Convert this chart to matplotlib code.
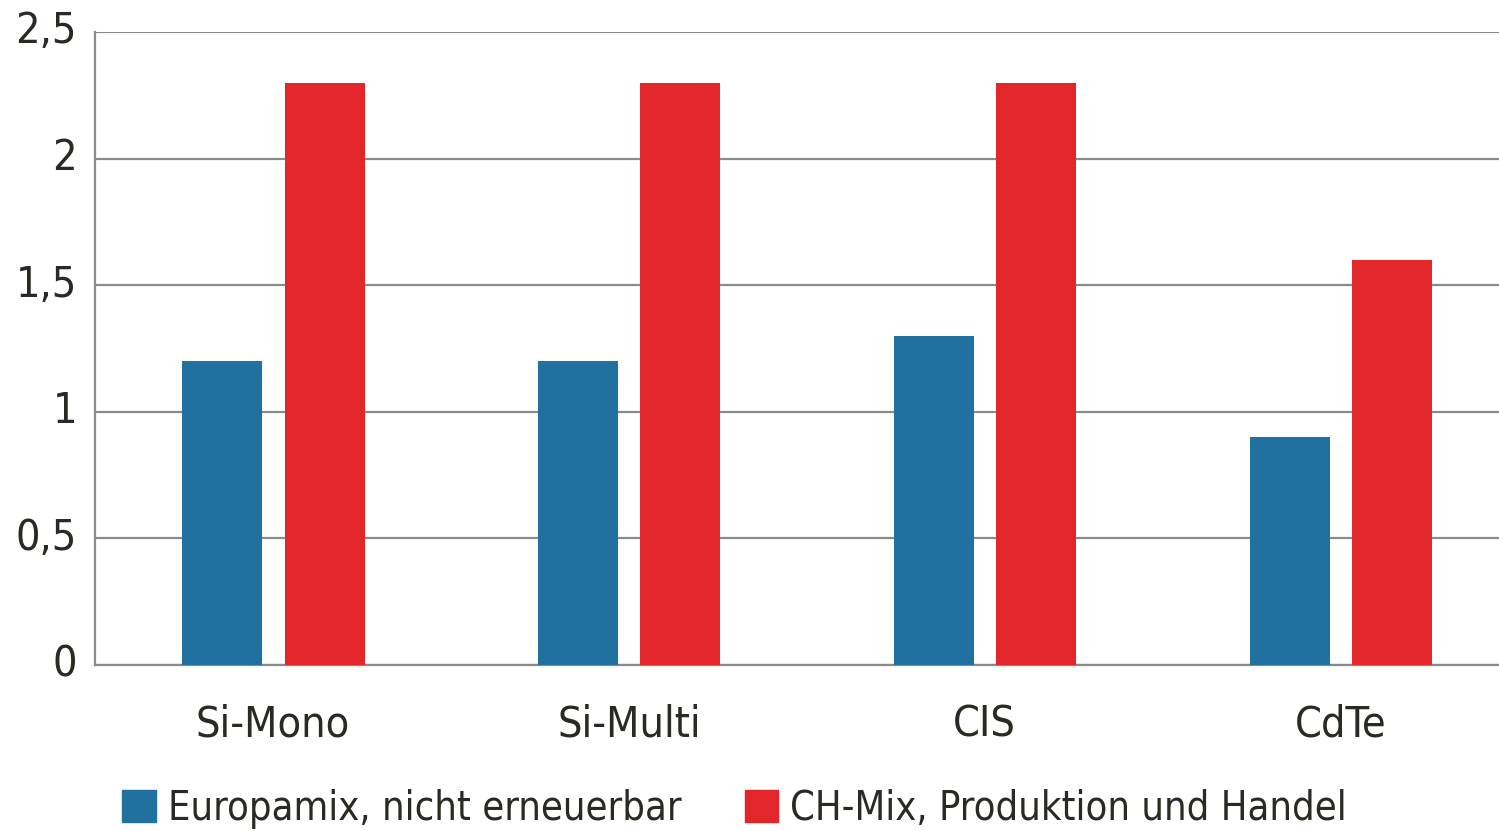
import matplotlib
matplotlib.use("Agg")
import matplotlib.pyplot as plt
import matplotlib.transforms as mtransforms
from matplotlib.patches import Patch
from matplotlib import font_manager
import numpy as np

categories = ["Si-Mono", "Si-Multi", "CIS", "CdTe"]
europamix = [1.2, 1.2, 1.3, 0.9]
ch_mix = [2.3, 2.3, 2.3, 1.6]
series_names = ["Europamix, nicht erneuerbar", "CH-Mix, Produktion und Handel"]
yticks = [0, 0.5, 1, 1.5, 2, 2.5]
ytick_labels = ["0", "0,5", "1", "1,5", "2", "2,5"]

names = {f.name for f in font_manager.fontManager.ttflist}
fam = "Liberation Sans Narrow" if "Liberation Sans Narrow" in names else "DejaVu Sans"
plt.rcParams["font.family"] = [fam, "DejaVu Sans"]
plt.rcParams["font.stretch"] = "condensed"

blue = "#20719f"
red = "#e3262a"
txt = "#2a2a24"
grid = "#8a8a8a"

fig = plt.figure(figsize=(14.99, 8.31), dpi=100)
ax = fig.add_axes([95 / 1499, 166 / 831, 1 - 95 / 1499, 633 / 831])

x = np.arange(len(categories))
w = 0.225
ax.bar(x - 0.142, europamix, w, color=blue, zorder=3)
ax.bar(x + 0.145, ch_mix, w, color=red, zorder=3)

ax.set_xlim(-0.5, 3.445)
ax.set_ylim(0, 2.5)
ax.set_yticks(yticks)
ax.set_yticklabels(ytick_labels)
ax.set_xticks(x)
ax.set_xticklabels(categories)
ax.tick_params(axis="both", length=0, labelsize=31, colors=txt)
ax.tick_params(axis="y", pad=13)
ax.tick_params(axis="x", pad=28)
ax.yaxis.grid(True, color=grid, linewidth=1.6, zorder=0)
for s in ["top", "right"]:
    ax.spines[s].set_visible(False)
for s in ["left", "bottom"]:
    ax.spines[s].set_color(grid)
    ax.spines[s].set_linewidth(1.6)

# lift y labels a little, as in the original
shift = mtransforms.ScaledTranslation(0, 5 / 100, fig.dpi_scale_trans)
for lab in ax.get_yticklabels():
    lab.set_transform(lab.get_transform() + shift)

handles = [Patch(color=blue), Patch(color=red)]
leg = fig.legend(handles, series_names, loc="center", bbox_to_anchor=(0.49, 0.027),
                 ncol=2, frameon=False, fontsize=28.5, handlelength=0.85, handleheight=0.85,
                 handletextpad=0.3, columnspacing=1.6, borderpad=0)
for t in leg.get_texts():
    t.set_color(txt)

fig.savefig("out.png", dpi=100)
